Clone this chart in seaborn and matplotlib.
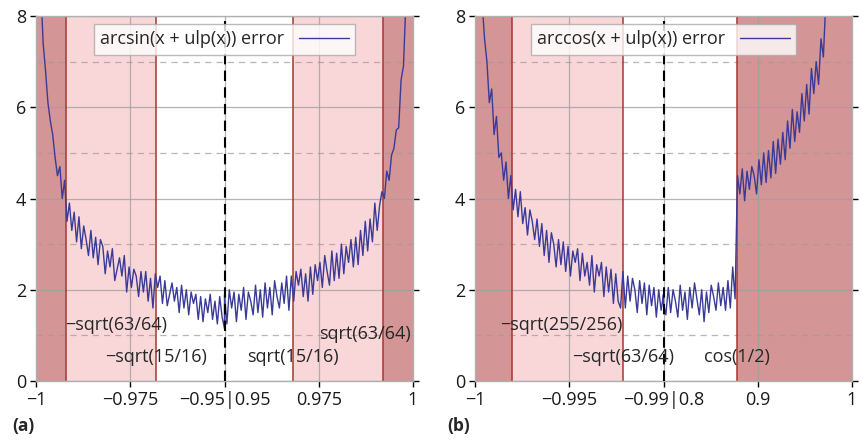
import numpy as np
import pandas as pd
import matplotlib
matplotlib.use("Agg")
import matplotlib.pyplot as plt
from matplotlib.ticker import FixedLocator
import seaborn as sns

sns.set_style("white")
plt.rcParams["font.family"] = ["Open Sans", "DejaVu Sans"]

# ---------------- data ----------------
# arcsin(x + ulp(x)) error, left piece x in [-1, -0.95], right piece x in [0.95, 1]
asin_lo_range = (-1.0, -0.95)
asin_hi_range = (0.95, 1.0)
asin_err_lo = [
    14.0, 10.5, 8.6, 7.4, 6.8, 6.1, 5.7, 5.4, 4.9, 4.5,
    4.7, 4.0, 4.4, 3.5, 3.9, 3.3, 3.7, 3.05, 3.6, 2.9,
    3.4, 3.1, 2.75, 3.3, 2.7, 3.15, 2.55, 3.1, 2.95, 2.35,
    2.85, 2.5, 2.9, 2.2, 2.45, 2.7, 2.3, 2.75, 1.95, 2.5,
    2.05, 2.45, 2.3, 1.85, 2.4, 1.95, 2.4, 1.75, 2.25, 1.6,
    2.35, 2.05, 2.3, 1.7, 2.2, 1.65, 1.9, 2.15, 1.75, 2.05,
    1.5, 2.1, 1.6, 2.0, 1.45, 1.95, 1.7, 1.9, 1.35, 1.85,
    1.3, 1.8, 1.5, 1.9, 1.35, 1.75, 1.25, 1.85, 1.4, 1.15,
]
asin_err_hi = [
    1.9, 1.25, 2.0, 1.6, 1.95, 1.3, 1.9, 1.55, 2.05, 1.35,
    1.95, 1.75, 1.45, 2.1, 1.5, 2.0, 1.4, 2.15, 1.6, 2.05,
    1.45, 2.2, 1.85, 1.6, 2.15, 1.7, 2.3, 1.55, 2.3, 1.75,
    2.4, 2.1, 2.45, 1.85, 2.35, 1.75, 2.5, 1.9, 2.55, 2.2,
    2.6, 2.05, 2.75, 2.4, 2.1, 2.85, 2.2, 2.8, 2.25, 3.0,
    2.35, 2.95, 2.6, 3.1, 2.5, 3.15, 2.55, 3.3, 2.75, 3.5,
    2.85, 3.55, 3.05, 3.9, 3.3, 3.85, 4.15, 4.0, 4.6, 4.4,
    4.95, 5.1, 5.5, 5.55, 6.6, 6.9, 8.3, 9.5, 11.5, 15.0,
]

# arccos(x + ulp(x)) error, left piece x in [-1, -0.99], right piece x in [0.8, 1]
acos_lo_range = (-1.0, -0.99)
acos_hi_range = (0.8, 1.0)
acos_err_lo = [
    14.0, 11.0, 9.4, 8.3, 7.5, 7.0, 6.1, 6.4, 5.4, 5.8,
    4.9, 5.0, 4.4, 4.8, 4.0, 4.5, 3.75, 4.2, 3.6, 4.15,
    3.45, 3.8, 3.2, 3.75, 3.5, 3.1, 3.55, 2.95, 3.45, 2.75,
    3.3, 2.6, 3.25, 3.0, 2.5, 3.1, 2.55, 3.05, 2.4, 2.95,
    2.3, 2.85, 2.6, 2.9, 2.2, 2.8, 2.3, 2.6, 2.1, 2.75,
    1.95, 2.55, 2.3, 2.6, 1.85, 2.5, 1.95, 2.45, 1.7, 2.35,
    1.75, 1.6, 2.4, 1.6, 2.3, 1.75, 2.25, 2.0, 1.5, 2.2,
    1.7, 2.15, 1.45, 2.1, 1.65, 2.05, 1.4, 2.0, 1.55, 1.9,
]
acos_err_hi = [
    1.7, 1.45, 2.05, 1.5, 2.0, 1.75, 1.4, 2.1, 1.55, 1.95,
    1.35, 2.05, 1.6, 2.15, 1.8, 1.45, 2.0, 1.3, 1.95, 1.5,
    2.1, 1.85, 1.55, 2.15, 1.65, 2.05, 1.55, 2.2, 1.6, 2.5,
    1.8, 4.5, 4.1, 4.65, 3.95, 4.6, 4.2, 4.7, 4.5, 4.1,
    4.85, 4.3, 5.0, 4.35, 5.05, 4.45, 5.25, 4.55, 5.3, 4.75,
    5.45, 4.85, 5.7, 5.1, 5.95, 5.25, 5.9, 5.45, 6.3, 5.7,
    6.5, 5.85, 6.85, 6.3, 7.0, 6.5, 7.5, 7.1, 8.3, 8.8,
    9.3, 9.9, 10.5, 11.2, 12.0, 12.8, 13.7, 14.7, 15.8, 17.0,
]

# region boundaries and their labels
asin_bounds = [-np.sqrt(63 / 64), -np.sqrt(15 / 16), np.sqrt(15 / 16), np.sqrt(63 / 64)]
acos_bounds = [-np.sqrt(255 / 256), -np.sqrt(63 / 64), np.cos(0.5)]

asin_ticks = [-1.0, -0.975, -0.95, 0.975, 1.0]
asin_ticklabels = ["\u22121", "\u22120.975", "\u22120.95|0.95", "0.975", "1"]
acos_ticks = [-1.0, -0.995, -0.99, 0.9, 1.0]
acos_ticklabels = ["\u22121", "\u22120.995", "\u22120.99|0.8", "0.9", "1"]

# ---------------- style ----------------
LINE = "#3a3a98"
DARK = "#d49596"
LIGHT = "#f9d7d9"
EDGE = "#a8362e"
FS = 13


def broken_scale(lo, hi):
    a0, a1 = lo
    b0, b1 = hi

    def fwd(x):
        x = np.asarray(x, dtype=float)
        left = (np.clip(x, a0, a1) - a0) / (a1 - a0) * 0.5
        right = 0.5 + (np.clip(x, b0, b1) - b0) / (b1 - b0) * 0.5
        return np.where(x <= a1, left, right)

    def inv(u):
        u = np.asarray(u, dtype=float)
        return np.where(u <= 0.5, a0 + u / 0.5 * (a1 - a0), b0 + (u - 0.5) / 0.5 * (b1 - b0))

    return fwd, inv


def make_frame(lo, hi, err_lo, err_hi):
    x = np.concatenate([np.linspace(lo[0], lo[1], len(err_lo)),
                        np.linspace(hi[0], hi[1], len(err_hi))])
    return pd.DataFrame({"x": x, "err": np.concatenate([err_lo, err_hi])})


def setup_axis(ax, lo, hi, ticks, ticklabels):
    ax.set_xscale("function", functions=broken_scale(lo, hi))
    ax.set_xlim(lo[0], hi[1])
    ax.set_ylim(0, 8)
    ax.xaxis.set_major_locator(FixedLocator(ticks))
    ax.set_xticklabels(ticklabels)
    ax.set_yticks([0, 2, 4, 6, 8])
    ax.yaxis.set_minor_locator(FixedLocator([1, 3, 5, 7]))
    ax.set_axisbelow(True)
    ax.grid(True, which="major", color="#a0a0a0", lw=0.9, alpha=0.8, zorder=0.5)
    ax.grid(True, which="minor", axis="y", color="#a89898", lw=0.9, ls=(0, (5, 4)),
            alpha=0.75, zorder=0.5)
    ax.tick_params(which="major", direction="out", length=4, width=1.0, color="black",
                   labelsize=FS, labelcolor="#1a1a1a", right=True, bottom=True, left=True,
                   pad=3)
    ax.tick_params(which="minor", length=0)
    for s in ax.spines.values():
        s.set_color("#b0b0b0")
        s.set_linewidth(1.0)


def shade(ax, spans):
    for a, b, c in spans:
        ax.axvspan(a, b, color=c, lw=0, zorder=0.2)


def edges(ax, xs):
    for xv in xs:
        ax.axvline(xv, color=EDGE, lw=1.1, zorder=0.6)


fig = plt.figure(figsize=(8.63, 4.47), dpi=100)
ax_a = fig.add_axes([36 / 863, 66 / 447, 377 / 863, 365 / 447])
ax_b = fig.add_axes([475 / 863, 66 / 447, 377 / 863, 365 / 447])

# ---- (a) arcsin ----
df_a = make_frame(asin_lo_range, asin_hi_range, asin_err_lo, asin_err_hi)
setup_axis(ax_a, asin_lo_range, asin_hi_range, asin_ticks, asin_ticklabels)
shade(ax_a, [(-1.0, asin_bounds[0], DARK), (asin_bounds[0], asin_bounds[1], LIGHT),
             (asin_bounds[2], asin_bounds[3], LIGHT), (asin_bounds[3], 1.0, DARK)])
edges(ax_a, asin_bounds)
ax_a.axvline(asin_lo_range[1], ymax=0.985, color="black", lw=1.5, ls=(0, (5, 3)), zorder=3)
sns.lineplot(data=df_a, x="x", y="err", ax=ax_a, color=LINE, lw=1.0, sort=False,
             estimator=None, label="arcsin(x + ulp(x)) error", zorder=2)
ax_a.text(asin_bounds[0], 1.23, "\u2212sqrt(63/64)", fontsize=FS, ha="left", va="center", zorder=4)
ax_a.text(asin_bounds[1], 0.53, "\u2212sqrt(15/16)", fontsize=FS, ha="center", va="center", zorder=4)
ax_a.text(asin_bounds[2], 0.53, "sqrt(15/16)", fontsize=FS, ha="center", va="center", zorder=4)
ax_a.text(0.9995, 1.03, "sqrt(63/64)", fontsize=FS, ha="right", va="center", zorder=4)

# ---- (b) arccos ----
df_b = make_frame(acos_lo_range, acos_hi_range, acos_err_lo, acos_err_hi)
setup_axis(ax_b, acos_lo_range, acos_hi_range, acos_ticks, acos_ticklabels)
shade(ax_b, [(-1.0, acos_bounds[0], DARK), (acos_bounds[0], acos_bounds[1], LIGHT),
             (acos_bounds[2], 1.0, DARK)])
edges(ax_b, acos_bounds)
ax_b.axvline(acos_lo_range[1], ymax=0.985, color="black", lw=1.5, ls=(0, (5, 3)), zorder=3)
sns.lineplot(data=df_b, x="x", y="err", ax=ax_b, color=LINE, lw=1.0, sort=False,
             estimator=None, label="arccos(x + ulp(x)) error", zorder=2)
ax_b.text(-0.99865, 1.23, "\u2212sqrt(255/256)", fontsize=FS, ha="left", va="center", zorder=4)
ax_b.text(acos_bounds[1], 0.53, "\u2212sqrt(63/64)", fontsize=FS, ha="center", va="center", zorder=4)
ax_b.text(acos_bounds[2], 0.53, "cos(1/2)", fontsize=FS, ha="center", va="center", zorder=4)

for ax in (ax_a, ax_b):
    ax.set_xlabel("")
    ax.set_ylabel("")
    leg = ax.legend(loc="upper center", fontsize=FS, markerfirst=False,
                    handlelength=2.8, frameon=True, fancybox=False, borderpad=0.35,
                    borderaxespad=0.45)
    leg.get_frame().set_edgecolor("#aaaaaa")
    leg.get_frame().set_facecolor("white")
    leg.get_frame().set_alpha(0.8)
    leg.set_zorder(5)

fig.text(12 / 863, 1 - 426 / 447, "(a)", fontsize=FS - 0.5, fontweight="bold", ha="left", va="center")
fig.text(447 / 863, 1 - 426 / 447, "(b)", fontsize=FS - 0.5, fontweight="bold", ha="left", va="center")

fig.savefig("out.png", dpi=100)
